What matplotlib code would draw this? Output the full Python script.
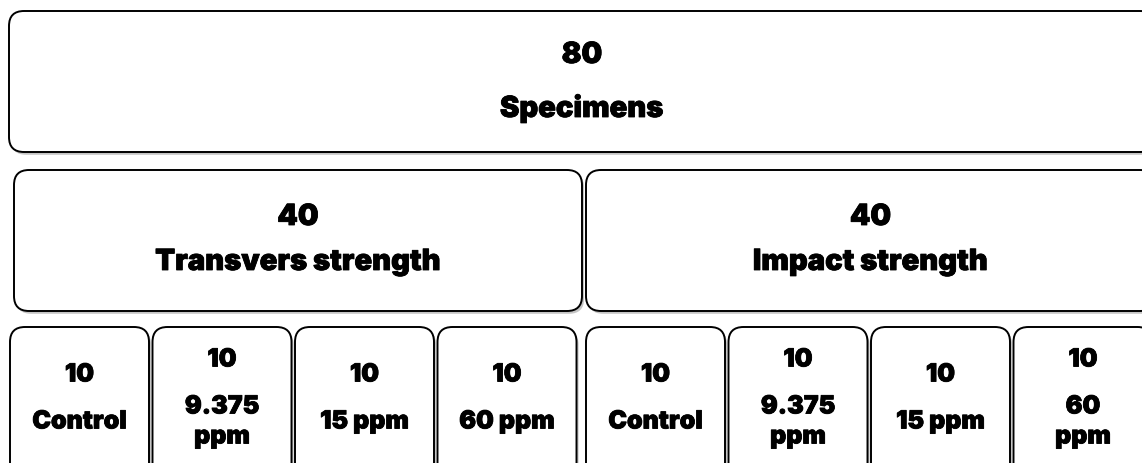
import matplotlib
matplotlib.use("Agg")
import matplotlib.pyplot as plt
import matplotlib.patheffects as pe
from matplotlib.patches import FancyBboxPatch

# ---------- data ----------
total_n = 80
total_label = "Specimens"
test_n = [40, 40]
test_labels = ["Transvers strength", "Impact strength"]
group_n = [10, 10, 10, 10, 10, 10, 10, 10]
group_labels = ["Control", "9.375\nppm", "15 ppm", "60 ppm",
                "Control", "9.375\nppm", "15 ppm", "60\nppm"]

# ---------- layout (pixels, y down) ----------
W, H = 1142, 463
FONT = ['Inter', 'DejaVu Sans']

fig = plt.figure(figsize=(W / 100, H / 100), dpi=100)
ax = fig.add_axes([0, 0, 1, 1])
ax.set_xlim(0, W)
ax.set_ylim(H, 0)
ax.axis('off')


def box(x0, y0, x1, y1):
    p = FancyBboxPatch((x0, y0), x1 - x0, y1 - y0,
                       boxstyle="round,pad=0,rounding_size=15",
                       fc='white', ec='black', lw=1.4, zorder=2)
    p.set_path_effects([pe.SimplePatchShadow(offset=(1.5, -2), shadow_rgbFace='0.55', alpha=0.5),
                        pe.Normal()])
    ax.add_patch(p)


def label(x, y, s, size):
    t = ax.text(x, y, s, ha='center', va='baseline', fontsize=size,
                fontweight=900, family=FONT, color='black', zorder=3)
    # a thin outline so the face reads a little heavier
    t.set_path_effects([pe.withStroke(linewidth=0.6, foreground='black')])


# top level
box(9, 11, 1155, 152)
label(582, 63, str(total_n), 21)
label(582, 117, total_label, 21)

# test type
mid_x = [(14, 582), (586, 1155)]
for (x0, x1), n, s in zip(mid_x, test_n, test_labels):
    box(x0, 170, x1, 311)
    cx = (x0 + x1) / 2
    label(cx, 225, str(n), 21)
    label(cx, 270, s, 21)

# groups
bw, gap = 139, 3.5
starts = [10 + i * (bw + gap) for i in range(4)] + [586 + i * (bw + gap) for i in range(4)]
for x0, n, s in zip(starts, group_n, group_labels):
    box(x0, 327, x0 + bw, 478)
    cx = x0 + bw / 2
    lines = s.split("\n")
    top = 405 - (47 + 30 * (len(lines) - 1)) / 2
    label(cx, top, str(n), 18)
    for k, ln in enumerate(lines):
        label(cx, top + 47 + 30 * k, ln, 18)

fig.savefig("out.png", dpi=100, facecolor='white')
